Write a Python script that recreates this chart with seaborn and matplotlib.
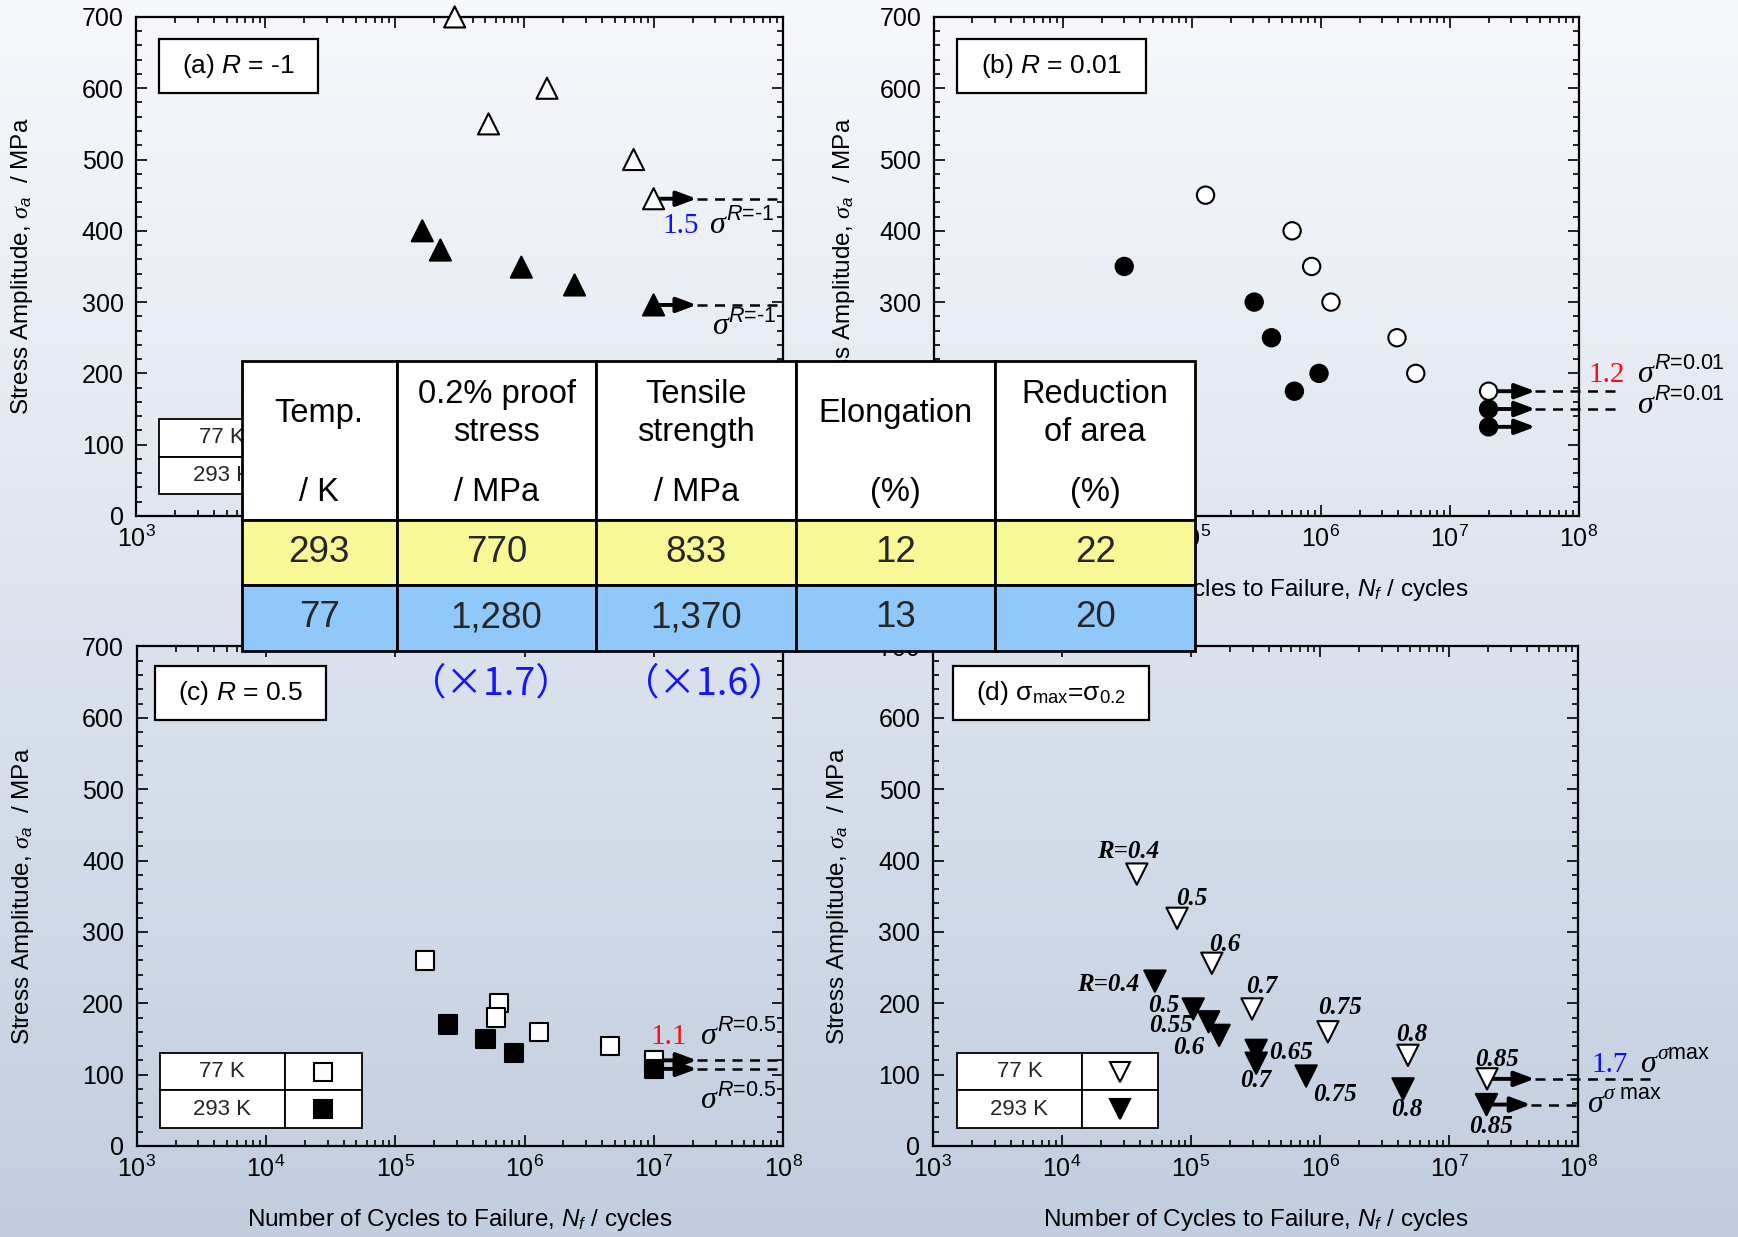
import numpy as np
import pandas as pd
import matplotlib
matplotlib.use("Agg")
import matplotlib.pyplot as plt
import seaborn as sns
from matplotlib.patches import Rectangle
from matplotlib.ticker import LogLocator, MultipleLocator, NullFormatter

# ---------------- data ----------------
a_N_77 = [2.9e5, 5.3e5, 1.5e6, 7.0e6, 1.0e7]
a_S_77 = [700, 550, 600, 500, 445]
a_N_293 = [1.63e5, 2.25e5, 9.5e5, 2.45e6, 1.0e7]
a_S_293 = [400, 373, 349, 324, 296]

b_N_77 = [1.28e5, 6.0e5, 8.5e5, 1.2e6, 3.9e6, 5.45e6, 2.0e7]
b_S_77 = [450, 400, 350, 300, 250, 200, 175]
b_N_293 = [3.0e4, 3.05e5, 4.15e5, 9.7e5, 6.25e5, 2.0e7, 2.0e7]
b_S_293 = [350, 300, 250, 200, 175, 150, 125]

c_N_77 = [1.7e5, 6.35e5, 6.0e5, 1.3e6, 4.6e6, 1.0e7]
c_S_77 = [260, 200, 180, 160, 140, 120]
c_N_293 = [2.55e5, 5.0e5, 8.25e5, 1.0e7]
c_S_293 = [170, 150, 130, 108]

d_N_77 = [3.8e4, 7.8e4, 1.45e5, 2.97e5, 1.15e6, 4.8e6, 1.97e7]
d_S_77 = [381, 319, 256, 192, 160, 127, 94]
d_R_77 = ["R=0.4", "0.5", "0.6", "0.7", "0.75", "0.8", "0.85"]
d_N_293 = [5.25e4, 1.04e5, 1.37e5, 1.65e5, 3.2e5, 3.2e5, 7.8e5, 4.4e6, 1.95e7]
d_S_293 = [231, 192, 174, 155, 134, 116, 98, 80, 58]
d_R_293 = ["R=0.4", "0.5", "0.55", "0.6", "0.65", "0.7", "0.75", "0.8", "0.85"]

table_cols = ["Temp.", "0.2% proof\nstress", "Tensile\nstrength", "Elongation", "Reduction\nof area"]
table_units = ["/ K", "/ MPa", "/ MPa", "(%)", "(%)"]
table_rows = [["293", "770", "833", "12", "22"],
              ["77", "1,280", "1,370", "13", "20"]]
ratio_labels = ["\uff08\u00d71.7\uff09", "\uff08\u00d71.6\uff09"]
legend_labels = ["77 K", "293 K"]

# ---------------- style ----------------
sns.set_theme(style="ticks")
plt.rcParams["font.family"] = ["Liberation Sans", "DejaVu Sans"]
plt.rcParams["mathtext.fontset"] = "custom"
plt.rcParams["mathtext.rm"] = "Liberation Sans"
plt.rcParams["mathtext.sf"] = "Liberation Sans"
plt.rcParams["mathtext.it"] = "Liberation Serif:italic"
plt.rcParams["mathtext.bf"] = "Liberation Sans:italic"

fig = plt.figure(figsize=(17.38, 12.37), dpi=100)

# gradient background
bg = fig.add_axes([0, 0, 1, 1], zorder=-10)
top = np.array([247, 248, 252]) / 255
bot = np.array([193, 206, 223]) / 255
t = np.linspace(0, 1, 256)[:, None, None]
grad = top[None, None, :] * (1 - t) + bot[None, None, :] * t
bg.imshow(np.repeat(grad, 4, axis=1), aspect="auto", extent=[0, 1, 0, 1])
bg.axis("off")

pos = {"a": [0.0783, 0.5829, 0.3722, 0.4034],
       "b": [0.5372, 0.5829, 0.3712, 0.4034],
       "c": [0.0786, 0.0736, 0.3720, 0.4038],
       "d": [0.5368, 0.0736, 0.3712, 0.4038]}
ylab_x = {"a": -0.157, "b": -0.119, "c": -0.155, "d": -0.127}
axes = {k: fig.add_axes(v) for k, v in pos.items()}


def setup(ax, key):
    ax.set_facecolor("none")
    ax.set_xscale("log")
    ax.set_xlim(1e3, 1e8)
    ax.set_ylim(0, 700)
    ax.xaxis.set_major_locator(LogLocator(base=10, numticks=10))
    ax.xaxis.set_minor_locator(LogLocator(base=10, subs=np.arange(2, 10), numticks=60))
    ax.xaxis.set_minor_formatter(NullFormatter())
    ax.yaxis.set_major_locator(MultipleLocator(100))
    ax.yaxis.set_minor_locator(MultipleLocator(20))
    ax.tick_params(which="both", direction="in", top=True, right=True,
                   width=1.2, color="black", labelcolor="black")
    ax.tick_params(which="major", length=8, labelsize=18)
    ax.tick_params(which="minor", length=4.5)
    ax.tick_params(axis="x", which="major", pad=7)
    ax.tick_params(axis="y", which="major", pad=9)
    for sp in ax.spines.values():
        sp.set_linewidth(1.6)
        sp.set_color("black")
    ax.set_xlabel("Number of Cycles to Failure, $\\mathbf{N}_{\\mathbf{f}}$ / cycles",
                  fontsize=17.5, color="black")
    ax.set_ylabel("Stress Amplitude, $\\sigma_{\\mathbf{a}}$  / MPa",
                  fontsize=17.5, color="black")
    ax.yaxis.set_label_coords(ylab_x[key], 0.5)
    ax.xaxis.set_label_coords(0.5, -0.122)


def points(ax, N77, S77, N293, S293, marker, s):
    df = pd.DataFrame({"N": list(N77) + list(N293),
                       "S": list(S77) + list(S293),
                       "T": [legend_labels[0]] * len(N77) + [legend_labels[1]] * len(N293)})
    xl, yl = ax.get_xlabel(), ax.get_ylabel()
    sns.scatterplot(data=df, x="N", y="S", hue="T",
                    palette={legend_labels[0]: "white", legend_labels[1]: "black"},
                    marker=marker, s=s, edgecolor="black", linewidth=1.5,
                    legend=False, ax=ax, zorder=5, clip_on=False)
    ax.set_xlabel(xl)
    ax.set_ylabel(yl)


def runout(ax, x0, x1, y, dash_end=None):
    ax.annotate("", xy=(x1, y), xytext=(x0, y),
                arrowprops=dict(arrowstyle="-|>,head_length=1.2,head_width=0.45",
                                lw=2.8, color="black", shrinkA=0, shrinkB=0,
                                mutation_scale=10),
                annotation_clip=False, zorder=4)
    if dash_end is not None:
        ax.plot([x1, dash_end], [y, y], color="black", lw=1.8, ls=(0, (4, 3)),
                clip_on=False, zorder=4)


def sigma_note(ax, x_sig, y, sup, coef=None, x_coef=None, coef_color=None):
    if coef is not None:
        ax.text(x_coef, y, coef, color=coef_color, family="Liberation Serif",
                fontsize=21, ha="left", va="baseline")
    ax.text(x_sig, y, "\u03c3", family="Liberation Serif", fontstyle="italic",
            fontsize=23, ha="left", va="baseline", color="black")
    ax.annotate(sup, xy=(x_sig, y), xytext=(12, 9), textcoords="offset points",
                fontsize=15.5, ha="left", va="baseline", color="black",
                annotation_clip=False)


def panel_box(ax, x0, x1, y0, y1, text):
    ax.add_patch(Rectangle((x0, y0), x1 - x0, y1 - y0, transform=ax.transAxes,
                           fc="white", ec="black", lw=1.6, zorder=7, clip_on=False))
    ax.text((x0 + x1) / 2, (y0 + y1) / 2, text, transform=ax.transAxes,
            ha="center", va="center", fontsize=19, zorder=8, color="black")


def legend_box(ax, x0, x1, xd, y0, y1, marker, ms):
    tab = ax.table(cellText=[[legend_labels[0], ""], [legend_labels[1], ""]],
                   bbox=[x0, y0, x1 - x0, y1 - y0], colWidths=[xd - x0, x1 - xd],
                   cellLoc="center", zorder=7)
    tab.auto_set_font_size(False)
    tab.set_fontsize(16)
    for cell in tab.get_celld().values():
        cell.set_linewidth(1.3)
        cell.set_facecolor("white")
        cell.set_edgecolor("black")
    xm = (xd + x1) / 2
    for frac, fc in [(0.75, "white"), (0.25, "black")]:
        ax.plot([xm], [y0 + frac * (y1 - y0)], marker=marker, ms=ms, mfc=fc,
                mec="black", mew=1.5, transform=ax.transAxes, zorder=9,
                clip_on=False, ls="none")


for k, ax in axes.items():
    setup(ax, k)

# (a)
ax = axes["a"]
points(ax, a_N_77, a_S_77, a_N_293, a_S_293, "^", 230)
runout(ax, a_N_77[-1], 2.15e7, a_S_77[-1], 1e8)
runout(ax, a_N_293[-1], 2.15e7, a_S_293[-1], 1e8)
sigma_note(ax, 10**7.43, 397, "$\\mathbf{R}$=-1", "1.5", 10**7.07, "#1010ff")
sigma_note(ax, 10**7.45, 255, "$\\mathbf{R}$=-1")
panel_box(ax, 0.036, 0.281, 0.848, 0.955, "(a) $\\mathbf{R}$ = -1")
legend_box(ax, 0.036, 0.348, 0.229, 0.044, 0.194, "^", 15)

# (b)
ax = axes["b"]
points(ax, b_N_77, b_S_77, b_N_293, b_S_293, "o", 155)
runout(ax, b_N_77[-1], 4.6e7, b_S_77[-1], 1.95e8)
runout(ax, b_N_293[-2], 4.6e7, b_S_293[-2], 1.95e8)
runout(ax, b_N_293[-1], 4.6e7, b_S_293[-1])
sigma_note(ax, 10**8.45, 188, "$\\mathbf{R}$=0.01", "1.2", 10**8.077, "#ff1010")
sigma_note(ax, 10**8.45, 145, "$\\mathbf{R}$=0.01")
panel_box(ax, 0.0357, 0.3287, 0.848, 0.955, "(b) $\\mathbf{R}$ = 0.01")
legend_box(ax, 0.036, 0.348, 0.229, 0.044, 0.194, "o", 13)

# (c)
ax = axes["c"]
points(ax, c_N_77, c_S_77, c_N_293, c_S_293, "s", 175)
runout(ax, c_N_77[-1], 2.15e7, c_S_77[-1], 1e8)
runout(ax, c_N_293[-1], 2.15e7, c_S_293[-1], 1e8)
sigma_note(ax, 10**7.357, 143, "$\\mathbf{R}$=0.5", "1.1", 10**6.974, "#ff1010")
sigma_note(ax, 10**7.357, 53, "$\\mathbf{R}$=0.5")
panel_box(ax, 0.0277, 0.2936, 0.853, 0.960, "(c) $\\mathbf{R}$ = 0.5")
legend_box(ax, 0.036, 0.348, 0.229, 0.0354, 0.1867, "s", 12.5)

# (d)
ax = axes["d"]
points(ax, d_N_77, d_S_77, d_N_293, d_S_293, "v", 235)
runout(ax, d_N_77[-1], 4.6e7, d_S_77[-1], 3.6e8)
runout(ax, d_N_293[-1], 4.3e7, d_S_293[-1], 1e8)
sigma_note(ax, 10**8.481, 104, "$\\sigma$max", "1.7", 10**8.106, "#1010ff")
sigma_note(ax, 10**8.067, 48, "$\\sigma$ max")
panel_box(ax, 0.0317, 0.3350, 0.853, 0.961,
          "(d) \u03c3$_{\\mathsf{max}}$=\u03c3$_{\\mathsf{0.2}}$")
legend_box(ax, 0.037, 0.349, 0.231, 0.0354, 0.1867, "v", 15)

off_77 = [(-6.5, 16), (10.8, 14), (9.5, 13.4), (7.3, 16), (9, 17.7), (3, 15.2), (7.3, 14)]
off_293 = [(-33.5, -2.5), (-21, 2.5), (-27, -3), (-21.5, -8.5), (25, -1.5),
           (0, -12.4), (21, -13), (2.6, -14.6), (3, -15.5)]
for N, S, lab, off in list(zip(d_N_77, d_S_77, d_R_77, off_77)) + \
        list(zip(d_N_293, d_S_293, d_R_293, off_293)):
    ax.annotate(lab, xy=(N, S), xytext=off, textcoords="offset points",
                ha="center", va="center", family="Liberation Serif",
                fontweight="bold", fontstyle="italic", fontsize=18, color="black",
                zorder=6, annotation_clip=False)

# ---------------- property table (overlay) ----------------
tax = fig.add_axes([0.139, 0.4741, 0.5486, 0.2338], zorder=20)
tax.set_xlim(0, 1)
tax.set_ylim(0, 1)
tax.axis("off")
col_w = np.array([155.2, 199.5, 199.5, 199.5, 199.6])
col_w = col_w / col_w.sum()
yellow = "#f8f996"
blue = "#90c8fa"
tbl = tax.table(cellText=[[""] * 5] + table_rows,
                cellColours=[["white"] * 5, [yellow] * 5, [blue] * 5],
                colWidths=list(col_w), cellLoc="center", bbox=[0, 0, 1, 1])
tbl.auto_set_font_size(False)
tbl.set_fontsize(26.5)
for (r, c), cell in tbl.get_celld().items():
    cell.set_linewidth(2.0)
    cell.set_edgecolor("black")
    cell.set_height(0.548 if r == 0 else 0.226)
centers = np.cumsum(col_w) - col_w / 2
for cx, head, unit in zip(centers, table_cols, table_units):
    tax.text(cx, 0.8196, head, ha="center", va="center", fontsize=23.5,
             linespacing=1.32, color="black")
    tax.text(cx, 0.548, unit, ha="center", va="center", fontsize=23.5, color="black")

for xf, lab in zip([0.2825, 0.4050], ratio_labels):
    fig.text(xf, 0.4475, lab, color="#1414ff", fontsize=27, ha="center", va="center",
             family=["Noto Sans CJK JP", "DejaVu Sans"])

fig.savefig("out.png", dpi=100)
